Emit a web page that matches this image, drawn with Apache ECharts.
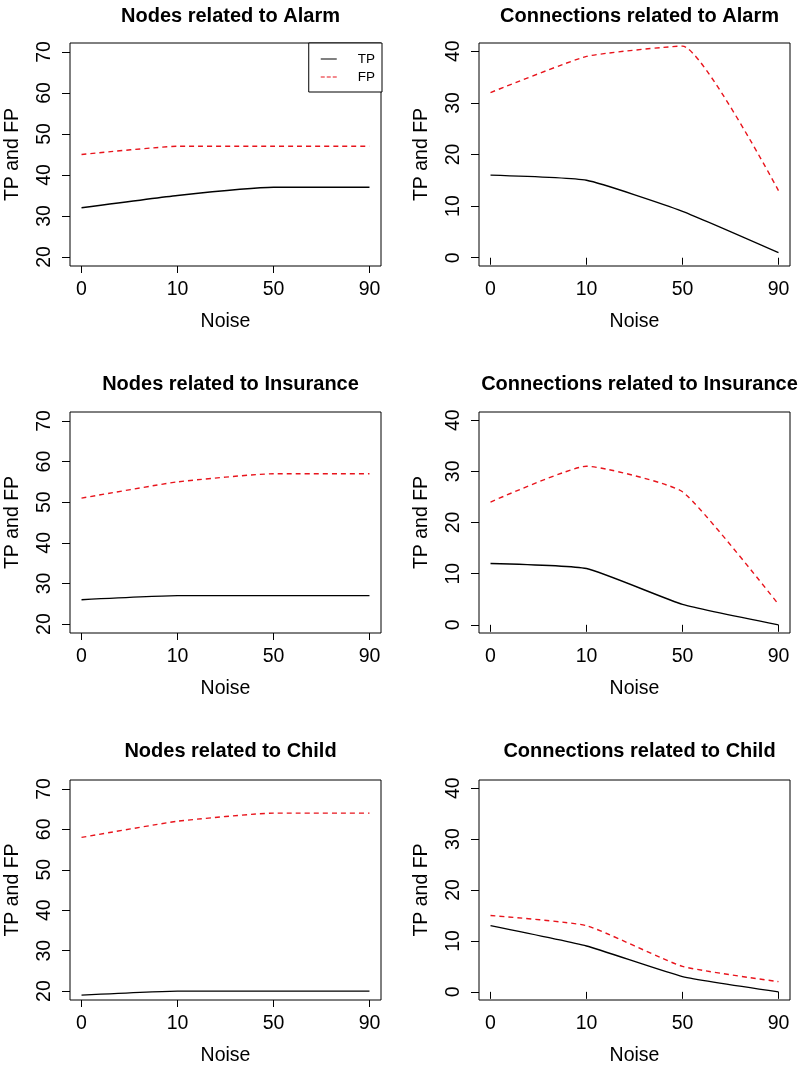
<!DOCTYPE html>
<html>
<head>
<meta charset="utf-8">
<script src="https://cdn.jsdelivr.net/npm/echarts@6/dist/echarts.min.js"></script>
<style>
html,body{margin:0;padding:0;background:#fff;}
#chart{width:798px;height:1067px;}
</style>
</head>
<body>
<div id="chart"></div>
<script>
// ---- data ----
const noiseLabels = ['0', '10', '50', '90'];
const panelTitles = [
  'Nodes related to Alarm', 'Connections related to Alarm',
  'Nodes related to Insurance', 'Connections related to Insurance',
  'Nodes related to Child', 'Connections related to Child'
];
const nodesAlarmTP = [32, 35, 37, 37];
const nodesAlarmFP = [45, 47, 47, 47];
const connAlarmTP = [16, 15, 9, 1];
const connAlarmFP = [32, 39, 41, 13];
const nodesInsuranceTP = [26, 27, 27, 27];
const nodesInsuranceFP = [51, 55, 57, 57];
const connInsuranceTP = [12, 11, 4, 0];
const connInsuranceFP = [24, 31, 26, 4];
const nodesChildTP = [19, 20, 20, 20];
const nodesChildFP = [58, 62, 64, 64];
const connChildTP = [13, 9, 3, 0];
const connChildFP = [15, 13, 5, 2];
const nodesYTicks = [20, 30, 40, 50, 60, 70];
const connYTicks = [0, 10, 20, 30, 40];

const panelTP = [nodesAlarmTP, connAlarmTP, nodesInsuranceTP, connInsuranceTP, nodesChildTP, connChildTP];
const panelFP = [nodesAlarmFP, connAlarmFP, nodesInsuranceFP, connInsuranceFP, nodesChildFP, connChildFP];

// ---- layout ----
const FONT = '"Liberation Sans", Arial, sans-serif';
const colLeft = [70, 479];
const rowTop = [43, 412, 780];
const rowH = [223, 221, 222];
const gridW = 311;
const titleTop = [1, 369, 736];
const RED = '#e8141c';

const chart = echarts.init(document.getElementById('chart'), null, {renderer: 'canvas'});

const grids = [], xAxes = [], yAxes = [], series = [], titles = [];
for (let i = 0; i < 6; i++) {
  const c = i % 2, r = Math.floor(i / 2);
  const isNodes = c === 0;
  grids.push({
    left: colLeft[c], top: rowTop[r], width: gridW, height: rowH[r],
    show: true, borderColor: '#000', borderWidth: 1, backgroundColor: 'transparent',
    containLabel: false
  });
  titles.push({
    text: panelTitles[i],
    left: colLeft[c] + gridW / 2, top: titleTop[r], textAlign: 'center',
    textStyle: {fontFamily: FONT, fontWeight: 'bold', fontSize: 20, color: '#000'}
  });
  const xTicks = noiseLabels.map((_, k) => k + 1);
  xAxes.push({
    gridIndex: i, type: 'value', min: 0.88, max: 4.12,
    axisLine: {show: false},
    splitLine: {show: false},
    axisTick: {show: true, inside: false, length: 7, customValues: xTicks, lineStyle: {color: '#000', width: 1}},
    axisLabel: {
      show: true, customValues: xTicks, margin: 14,
      fontFamily: FONT, fontSize: 19.5, color: '#000',
      formatter: v => noiseLabels[Math.round(v) - 1]
    },
    name: 'Noise', nameLocation: 'middle', nameGap: 46,
    nameTextStyle: {fontFamily: FONT, fontSize: 19.5, color: '#000'}
  });
  const yt = isNodes ? nodesYTicks : connYTicks;
  yAxes.push({
    gridIndex: i, type: 'value',
    min: isNodes ? 17.8 : -1.6, max: isNodes ? 72.2 : 41.6,
    axisLine: {show: false},
    splitLine: {show: false},
    axisTick: {show: true, inside: false, length: 8, customValues: yt, lineStyle: {color: '#000', width: 1}},
    axisLabel: {
      show: true, customValues: yt, rotate: 90, margin: 15,
      fontFamily: FONT, fontSize: 19.5, color: '#000'
    },
    name: 'TP and FP', nameLocation: 'middle', nameGap: 47, nameRotate: 90,
    nameTextStyle: {fontFamily: FONT, fontSize: 19.5, color: '#000'}
  });
  series.push({
    name: 'TP', type: 'line', xAxisIndex: i, yAxisIndex: i,
    data: panelTP[i].map((v, k) => [k + 1, v]),
    symbol: 'none', smooth: 0.15,
    lineStyle: {color: '#000', width: 1.4, type: 'solid'},
    itemStyle: {color: '#000'},
    emphasis: {disabled: true}
  });
  series.push({
    name: 'FP', type: 'line', xAxisIndex: i, yAxisIndex: i,
    data: panelFP[i].map((v, k) => [k + 1, v]),
    symbol: 'none', smooth: 0.15,
    lineStyle: {color: RED, width: 1.4, type: [5, 4]},
    itemStyle: {color: RED},
    emphasis: {disabled: true}
  });
}

chart.setOption({
  animation: false,
  backgroundColor: '#fff',
  title: titles,
  grid: grids,
  xAxis: xAxes,
  yAxis: yAxes,
  legend: {
    show: true,
    data: [
      {name: 'TP', icon: 'path://M0,0H16V1H0Z', itemStyle: {color: '#000', borderWidth: 0}},
      {name: 'FP', icon: 'path://M0,0H4V1H0Z M6,0H10V1H6Z M12,0H16V1H12Z', itemStyle: {color: RED, borderWidth: 0}}
    ],
    orient: 'vertical',
    right: 416, top: 43,
    backgroundColor: '#fff',
    borderColor: '#000', borderWidth: 1, borderRadius: 0,
    padding: [9, 7, 8, 12],
    itemWidth: 16, itemHeight: 1.5, itemGap: 4,
    selectedMode: false,
    textStyle: {fontFamily: FONT, fontSize: 13.5, color: '#000', padding: [0, 0, 0, 16]}
  },
  series: series
});
</script>
</body>
</html>
